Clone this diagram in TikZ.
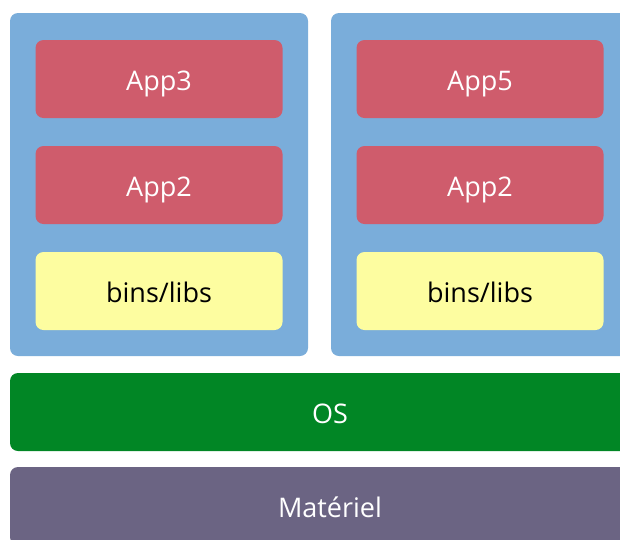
\documentclass[tikz,border=0pt]{standalone}
\usepackage{fontspec}
\setmainfont{Open Sans}
\usepackage{xcolor}
\definecolor{conteneur}{HTML}{7AADDA}
\definecolor{appli}{HTML}{CF5C6C}
\definecolor{biblio}{HTML}{FDFDA0}
\definecolor{systeme}{HTML}{018625}
\definecolor{materiel}{HTML}{6B6483}

\begin{document}
\begin{tikzpicture}[x=1pt,y=-1pt,
		boite/.style={rounded corners=8pt,inner sep=0pt,text height=26pt,text depth=4pt,font=\fontsize{27}{32}\selectfont},
		pile/.style={boite,fill=conteneur,minimum width=298pt,minimum height=343pt},
		app/.style={boite,fill=appli,text=white,minimum width=247pt,minimum height=78pt},
		libs/.style={boite,fill=biblio,text=black,minimum width=247pt,minimum height=78pt},
		couche/.style={boite,text=white,minimum width=640pt,minimum height=78pt}]
			\clip (0,0) rectangle (620,539);
			\foreach \Pile/\X/\Haut in {g/159/App3,d/480/App5} {
				\node[pile] (pile\Pile) at (\X,184.5) {};
				\node[app] (haut\Pile) at (\X,79) {\Haut};
				\node[app] (milieu\Pile) at (\X,185) {App2};
				\node[libs] (libs\Pile) at (\X,291) {bins/libs};
			}
			\node[couche,fill=systeme] (os) at (330,412) {OS};
			\node[couche,fill=materiel] (hw) at (330,506) {Mat\'eriel};
		\end{tikzpicture}
\end{document}
